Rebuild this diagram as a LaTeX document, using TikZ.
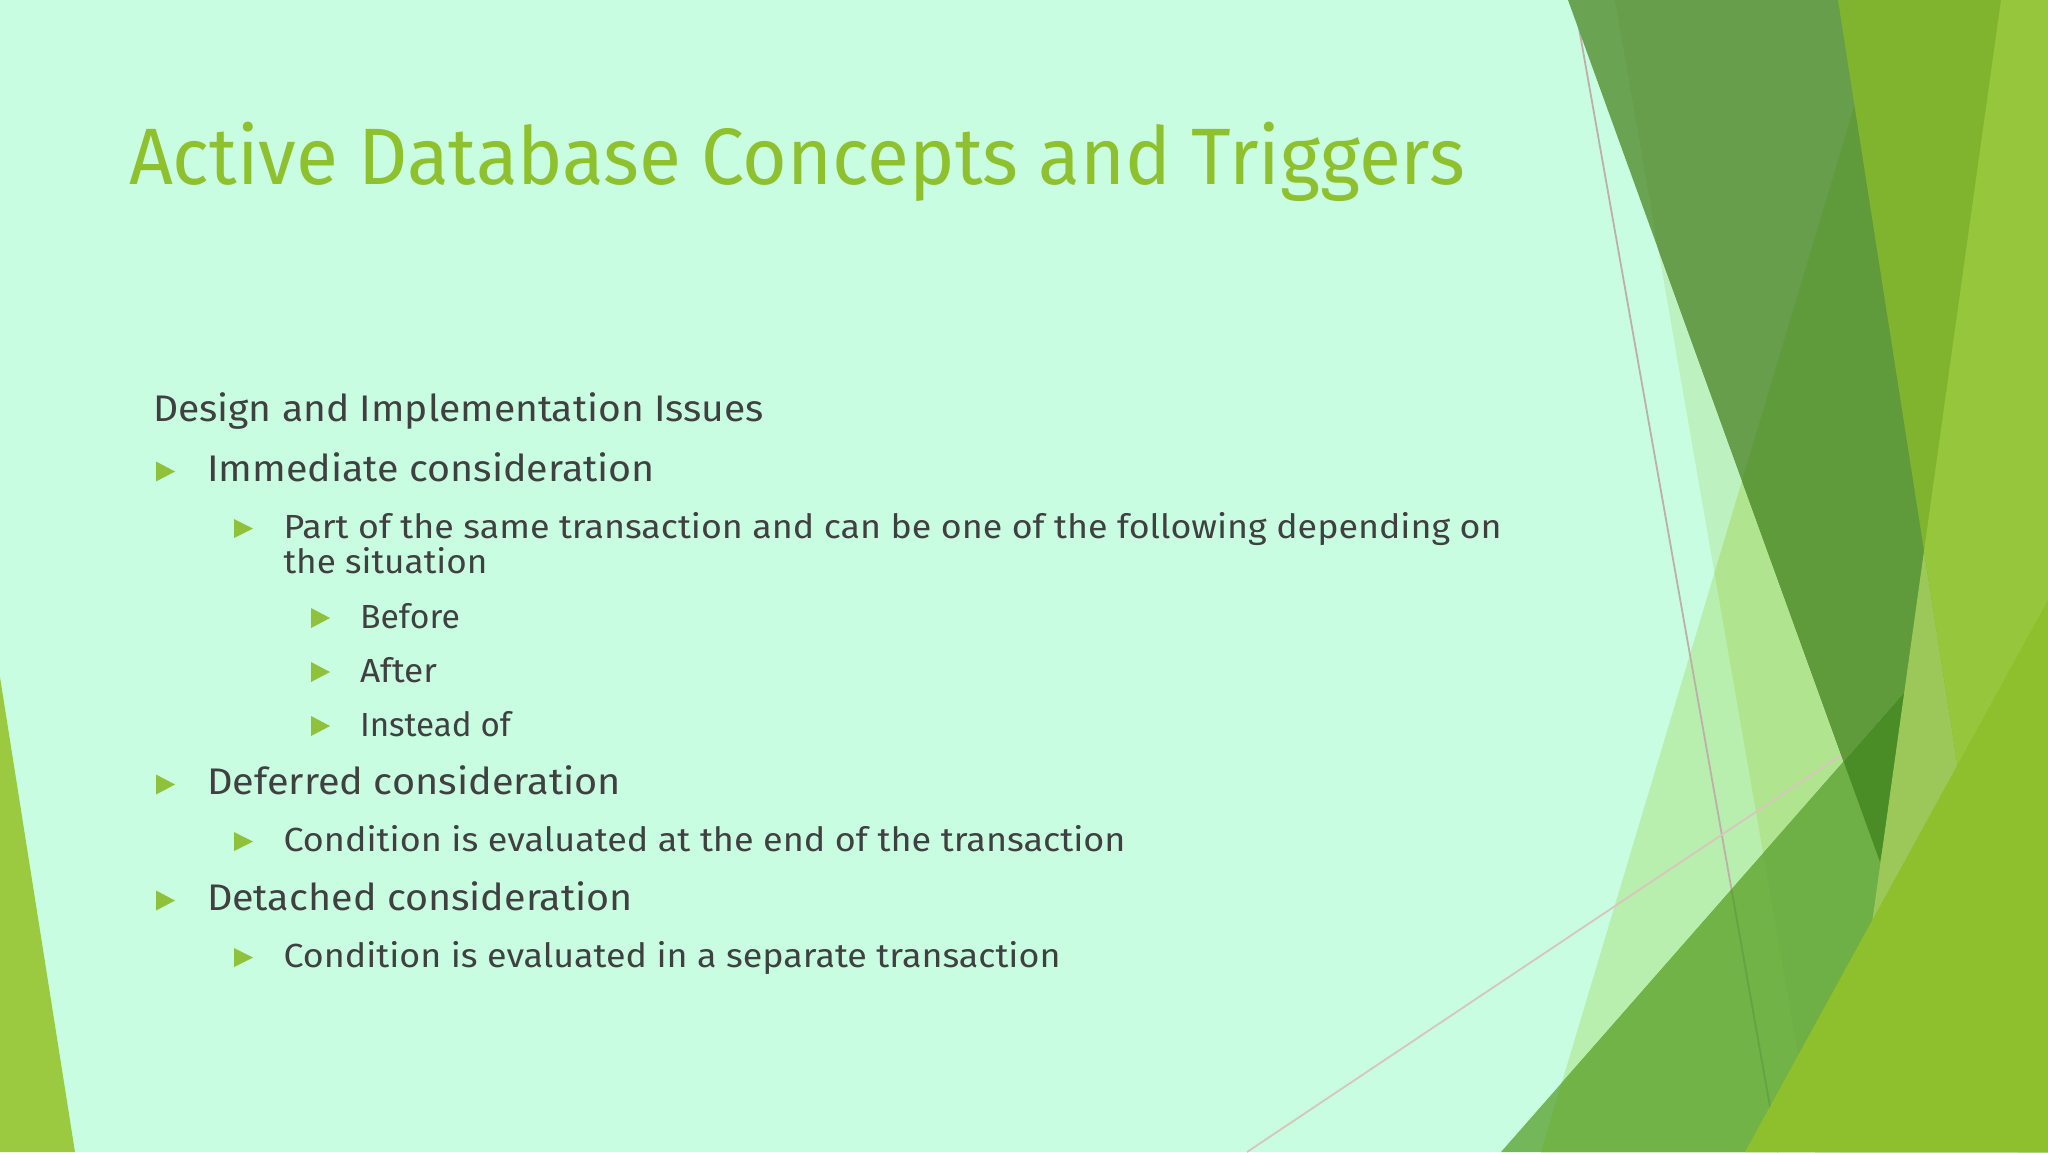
\documentclass[tikz,border=0pt]{standalone}
\usepackage{fontspec}
\setmainfont{Fira Sans}
\usepackage{graphicx}
\definecolor{mint}{HTML}{C8FDE2}
\definecolor{titlegreen}{HTML}{8FC12F}
\definecolor{bodygray}{HTML}{404040}
\definecolor{bulgreen}{HTML}{8FC23A}
\definecolor{leftgreen}{HTML}{9BC93F}
\definecolor{stwo}{HTML}{B8EEAE}
\definecolor{pone}{HTML}{BDF2C0}
\definecolor{ponestwo}{HTML}{B0E48E}
\definecolor{done}{HTML}{6AA351}
\definecolor{donepone}{HTML}{679E4C}
\definecolor{donestwo}{HTML}{5F9A3B}
\definecolor{gone}{HTML}{74B75B}
\definecolor{gonestwo}{HTML}{72B347}
\definecolor{gonepone}{HTML}{6EB045}
\definecolor{gonedone}{HTML}{4A8C26}
\definecolor{ytwo}{HTML}{9CC85A}
\definecolor{yone}{HTML}{80B42E}
\definecolor{yoneytwo}{HTML}{95C63C}
\definecolor{gtwo}{HTML}{8EC02E}
\definecolor{lineone}{HTML}{BDB0A8}
\definecolor{lineonedark}{HTML}{64A243}
\definecolor{linetwo}{HTML}{D8C6BC}
\newcommand{\fitwd}[2]{\resizebox{#1pt}{\height}{#2}}
\begin{document}
\begin{tikzpicture}[x=1pt,y=-1pt,
  txt/.style={anchor=base west, inner sep=0pt, outer sep=0pt, text=bodygray},
  lvlone/.style={txt, font=\fontsize{37}{42}\selectfont},
  lvltwo/.style={txt, font=\fontsize{33.4}{38}\selectfont},
  bul/.style={fill=bulgreen},
  thinline/.style={line width=1.8pt}]
\useasboundingbox (0,0) rectangle (2048,1152);
\fill[mint] (0,0) rectangle (2048,1152);
% left decoration
\fill[leftgreen] (0,677) -- (75,1152) -- (0,1152) -- cycle;
% right decoration
\def\Stwo{(1886,0) -- (2048,0) -- (2048,1152) -- (1541,1152) -- cycle}
\def\Pone{(1615,0) -- (2048,0) -- (2048,1152) -- (1815,1152) -- cycle}
\def\Done{(1568,0) -- (2048,0) -- (1880,862) -- cycle}
\def\Gone{(1501,1152) -- (1960,629) -- (2048,700) -- (2048,1152) -- cycle}
\def\Ytwo{(2001,0) -- (2048,0) -- (2048,1152) -- (1840,1152) -- cycle}
\def\Yone{(1838,0) -- (2048,0) -- (2048,1152) -- (2018,1152) -- cycle}
\fill[stwo] \Stwo;
\fill[pone] \Pone;
\begin{scope}\clip \Stwo; \fill[ponestwo] \Pone;\end{scope}
\coordinate (la) at (1574,0);
\coordinate (lb) at (1778,1152);
\coordinate (ma) at (1247,1152);
\coordinate (mb) at (1850,749);
\draw[thinline, lineone] (la) -- (lb);
\draw[thinline, linetwo] (ma) -- (mb);
\fill[done] \Done;
\begin{scope}\clip \Pone; \fill[donepone] \Done;\end{scope}
\begin{scope}\clip \Stwo; \fill[donestwo] \Done;\end{scope}
\fill[gone] \Gone;
\begin{scope}\clip \Stwo; \fill[gonestwo] \Gone;\end{scope}
\begin{scope}\clip \Stwo; \clip \Pone; \fill[gonepone] \Gone;\end{scope}
\begin{scope}\clip \Done; \fill[gonedone] \Gone;\end{scope}
\begin{scope}\clip \Gone; \draw[thinline, lineonedark] (la) -- (lb);\end{scope}
\fill[ytwo] \Ytwo;
\fill[yone] \Yone;
\begin{scope}\clip \Ytwo; \fill[yoneytwo] \Yone;\end{scope}
\fill[gtwo] (1745,1152) -- (2048,600) -- (2048,1152) -- cycle;
% title
\node[txt, text=titlegreen, font=\fontsize{80}{90}\selectfont] (title) at (129,184.5)
  {\fitwd{1336}{Active Database Concepts and Triggers}};
% body
\node[lvlone] (head) at (153,421) {\fitwd{611}{Design and Implementation Issues}};
\node[lvlone] (imm) at (207,481.5) {\fitwd{448}{Immediate consideration}};
\node[lvltwo] (part) at (283.5,538) {\fitwd{1218}{Part of the same transaction and can be one of the following depending on}};
\node[lvltwo] (sit) at (283.5,573) {\fitwd{204}{the situation}};
\node[lvltwo] (bef) at (360,628) {\fitwd{100}{Before}};
\node[lvltwo] (aft) at (360,682) {\fitwd{77}{After}};
\node[lvltwo] (ins) at (360,736) {\fitwd{151}{Instead of}};
\node[lvlone] (def) at (207,794.5) {\fitwd{414}{Deferred consideration}};
\node[lvltwo] (cone) at (283.5,851) {\fitwd{842}{Condition is evaluated at the end of the transaction}};
\node[lvlone] (det) at (207,910.5) {\fitwd{426}{Detached consideration}};
\node[lvltwo] (ctwo) at (283.5,967) {\fitwd{777}{Condition is evaluated in a separate transaction}};
% bullets
\fill[bul] (156,461.5) -- (175,471.5) -- (156,481.5) -- cycle;
\fill[bul] (234,519) -- (253,528.5) -- (234,538) -- cycle;
\fill[bul] (311,608) -- (330,618) -- (311,628) -- cycle;
\fill[bul] (311,662) -- (330,672) -- (311,682) -- cycle;
\fill[bul] (311,716) -- (330,726) -- (311,736) -- cycle;
\fill[bul] (156,774.5) -- (175,784.5) -- (156,794.5) -- cycle;
\fill[bul] (234,832) -- (253,841.5) -- (234,851) -- cycle;
\fill[bul] (156,890.5) -- (175,900.5) -- (156,910.5) -- cycle;
\fill[bul] (234,948) -- (253,957.5) -- (234,967) -- cycle;
\end{tikzpicture}
\end{document}
